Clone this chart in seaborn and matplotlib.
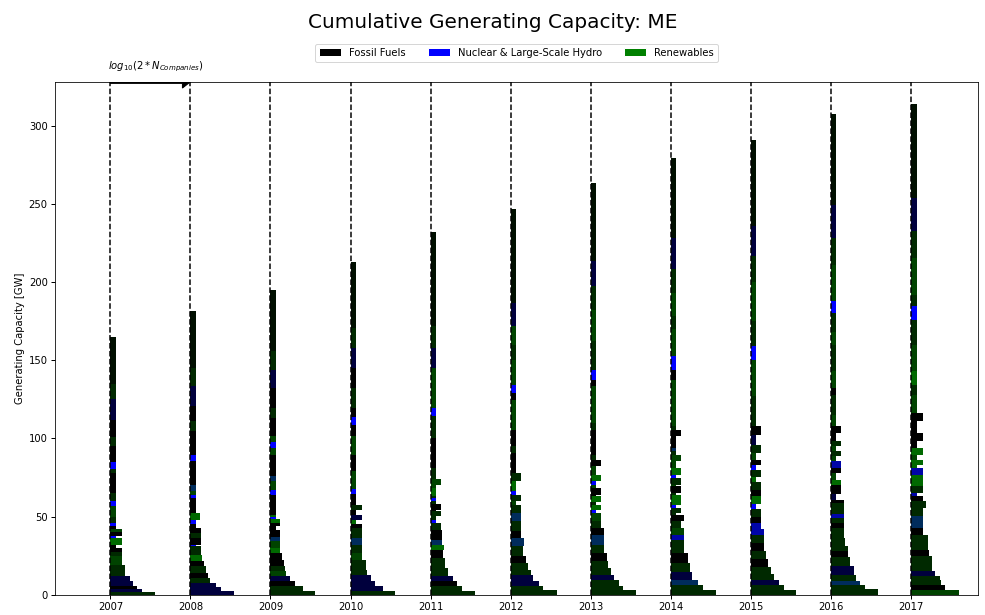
import matplotlib
matplotlib.use("Agg")
import matplotlib.pyplot as plt
from matplotlib.patches import Patch
import numpy as np
import pandas as pd
import seaborn as sns

# ---------------------------------------------------------------------------
# Data: every company is one block, stacked bottom-up in each year.
# cap_*  : installed capacity of the company [GW]
# wid_*  : horizontal extent of the block, in units of log10(2*N_companies)
# mix_*  : fuel-blend code of the company (see blend_shares)
# ---------------------------------------------------------------------------
years = [2007, 2008, 2009, 2010, 2011, 2012, 2013, 2014, 2015, 2016, 2017]

cap_2007 = [1.7, 1.9, 2.2, 2.7, 3.2, 3.2, 4.1, 5.5, 3.0, 2.2, 2.3, 4.0, 1.5, 2.5, 2.0,
            2.0, 2.0, 4.0, 7.0, 3.0, 5.0, 13.0, 2.5, 4.5, 10.0, 6.0, 11.0, 13.0, 10.0, 30.0]
wid_2007 = [0.56, 0.39, 0.33, 0.28, 0.24, 0.18, 0.18, 0.146, 0.146, 0.146, 0.07, 0.146, 0.07, 0.146, 0.146,
            0.07, 0.07, 0.07, 0.07, 0.07, 0.07, 0.07, 0.07, 0.07, 0.07, 0.07, 0.07, 0.07, 0.07, 0.07]
mix_2007 = "dnknnddgdkkGBkgkBdgBdkdBkdkndm"

cap_2008 = [2.6, 2.1, 2.8, 3.2, 3.2, 4.2, 3.2, 4.3, 5.3, 1.1, 4.2, 3.2, 3.2, 2.8, 2.6, 4.2,
            9.6, 2.2, 2.1, 4.3, 14.9, 4.2, 14.9, 6.4, 9.6, 12.8, 11.8, 36.2]
wid_2008 = [0.545, 0.38, 0.32, 0.25, 0.22, 0.19, 0.17, 0.15, 0.13, 0.07, 0.13, 0.13, 0.13, 0.07, 0.07, 0.125,
            0.07, 0.07, 0.07, 0.07, 0.07, 0.07, 0.07, 0.07, 0.07, 0.07, 0.07, 0.07]
mix_2008 = "nnndkdkGdBkdkkBGkBgtkBkdkndm"

cap_2009 = [2.6, 2.7, 3.2, 3.2, 3.2, 3.2, 4.3, 4.3, 3.2, 4.2, 2.6, 4.9, 2.1, 2.1, 2.6, 1.6,
            1.2, 12.8, 3.2, 5.4, 3.2, 13.8, 3.9, 4.3, 3.6, 11.7, 6.4, 12.8, 11.7, 11.7, 39.3]
wid_2009 = [0.55, 0.40, 0.31, 0.25, 0.20, 0.18, 0.17, 0.14, 0.125, 0.125, 0.125, 0.125, 0.07, 0.12, 0.12, 0.07,
            0.07, 0.07, 0.07, 0.07, 0.07, 0.07, 0.07, 0.07, 0.07, 0.07, 0.07, 0.07, 0.07, 0.07, 0.07]
mix_2009 = "ddkngdkkGgtkkkGBGkBgtkgBgkdkndm"

cap_2010 = [2.6, 2.7, 3.2, 4.3, 3.2, 6.4, 4.3, 5.3, 4.2, 6.4, 2.6, 2.8, 2.7, 3.3, 3.5, 6.9,
            3.2, 11.3, 10.6, 11.7, 7.1, 5.1, 6.1, 12.6, 12.8, 12.8, 12.9, 42.4]
wid_2010 = [0.56, 0.40, 0.31, 0.26, 0.21, 0.19, 0.146, 0.146, 0.146, 0.146, 0.146, 0.07, 0.146, 0.07, 0.146, 0.07,
            0.07, 0.07, 0.07, 0.07, 0.07, 0.07, 0.07, 0.07, 0.07, 0.07, 0.07, 0.07]
mix_2010 = "dnnnddgdtdkGnkdkBgkgkBkdkndm"

cap_2011 = [2.6, 2.7, 3.2, 3.2, 5.3, 6.5, 5.3, 3.2, 3.2, 6.4, 4.2, 2.2, 2.1, 3.2, 1.1,
            3.6, 1.7, 1.9, 1.3, 5.3, 1.7, 4.3, 6.8, 19.2, 14.0, 5.2, 25.5, 12.8, 13.9, 60.4]
wid_2011 = [0.56, 0.39, 0.33, 0.28, 0.22, 0.18, 0.15, 0.165, 0.14, 0.14, 0.13, 0.07, 0.07, 0.13, 0.07,
            0.13, 0.07, 0.07, 0.07, 0.07, 0.07, 0.13, 0.07, 0.07, 0.07, 0.07, 0.07, 0.07, 0.07, 0.07]
mix_2011 = "ddknddkGtkdBddkkdBdGggdkdBgndm"

cap_2012 = [2.8, 2.5, 3.2, 4.3, 3.2, 4.3, 4.2, 6.4, 5.3, 4.3, 6.4, 5.3, 5.4, 2.1, 4.3,
            2.0, 6.5, 5.3, 12.8, 4.3, 10.6, 19.2, 4.3, 5.3, 15.7, 10.0, 11.6, 15.0, 60.1]
wid_2012 = [0.58, 0.40, 0.35, 0.28, 0.25, 0.22, 0.19, 0.16, 0.17, 0.13, 0.13, 0.13, 0.13, 0.07, 0.13,
            0.07, 0.07, 0.13, 0.07, 0.07, 0.07, 0.07, 0.07, 0.07, 0.07, 0.07, 0.07, 0.07, 0.07]
mix_2012 = "ddnnddkdtkdtdgdBGdkdkgkBgdgnm"

cap_2013 = [2.8, 3.0, 3.8, 3.2, 4.2, 4.3, 5.4, 5.3, 6.4, 4.2, 4.3, 5.3, 2.2, 3.2, 1.4, 3.9, 1.0,
            4.3, 2.2, 2.1, 4.3, 5.3, 4.3, 3.2, 15.9, 4.3, 23.5, 4.2, 6.4, 18.3, 20.0, 15.0, 16.0, 50.2]
wid_2013 = [0.57, 0.40, 0.35, 0.29, 0.25, 0.22, 0.20, 0.17, 0.17, 0.17, 0.13, 0.13, 0.07, 0.13, 0.07, 0.13, 0.07,
            0.13, 0.07, 0.07, 0.13, 0.07, 0.13, 0.07, 0.07, 0.07, 0.07, 0.07, 0.07, 0.07, 0.07, 0.07, 0.07, 0.07]
mix_2013 = "dddnddkdtkdgBGdGkkgBGgkdkdgkBdgdnm"

cap_2014 = [3.2, 3.2, 3.2, 4.7, 6.0, 6.4, 4.3, 4.2, 3.2, 4.2, 4.3, 4.3, 1.0, 3.2, 2.2, 6.3, 1.1, 4.3, 1.1,
            4.2, 2.2, 4.2, 4.3, 4.3, 2.0, 2.0, 7.6, 4.3, 2.2, 29.8, 6.4, 8.5, 17.6, 8.0, 14.9, 15.1, 20.1, 51.2]
wid_2014 = [0.57, 0.40, 0.34, 0.27, 0.24, 0.21, 0.17, 0.17, 0.17, 0.17, 0.13, 0.17, 0.07, 0.13, 0.07, 0.13, 0.07, 0.13, 0.07,
            0.13, 0.07, 0.13, 0.07, 0.13, 0.07, 0.07, 0.07, 0.13, 0.07, 0.07, 0.07, 0.07, 0.07, 0.07, 0.07, 0.07, 0.07, 0.07]
mix_2014 = "ddtndkddbgdkddBGdkgdBGggdtkkdgkBgdgdnm"

cap_2015 = [3.0, 3.4, 3.2, 3.9, 4.5, 5.0, 5.0, 5.0, 5.0, 4.0, 4.0, 4.0, 5.0, 3.0, 5.0, 4.0, 5.0,
            3.0, 5.0, 3.0, 3.0, 4.6, 5.4, 6.4, 5.3, 19.2, 23.4, 8.5, 16.2, 25.0, 16.4, 19.2, 55.1]
wid_2015 = [0.57, 0.41, 0.35, 0.29, 0.25, 0.22, 0.19, 0.17, 0.17, 0.17, 0.13, 0.13, 0.13, 0.07, 0.13, 0.13, 0.13,
            0.07, 0.13, 0.07, 0.13, 0.07, 0.13, 0.07, 0.125, 0.07, 0.07, 0.07, 0.07, 0.07, 0.07, 0.07, 0.07]
mix_2015 = "ddnddkdkdbbkdBGkdGdBkgdnkdgBdgdnm"

cap_2016 = [3.6, 2.8, 2.6, 3.4, 5.7, 5.8, 3.8, 3.2, 5.3, 6.4, 3.2, 3.2, 2.6, 7.0, 2.1, 3.7, 6.0, 3.2, 4.2,
            3.2, 4.3, 3.2, 3.2, 3.2, 3.2, 5.3, 4.3, 7.3, 13.0, 4.2, 10.7, 17.0, 8.0, 12.3, 7.4, 23.4, 17.2, 21.3, 58.0]
wid_2016 = [0.59, 0.43, 0.36, 0.31, 0.29, 0.24, 0.22, 0.21, 0.18, 0.17, 0.16, 0.16, 0.16, 0.16, 0.16, 0.07, 0.13, 0.13, 0.07,
            0.13, 0.13, 0.07, 0.13, 0.07, 0.13, 0.07, 0.13, 0.07, 0.07, 0.07, 0.07, 0.07, 0.07, 0.07, 0.07, 0.07, 0.07, 0.07, 0.07]
mix_2016 = "ddtdndkdddkdbdknkGgkbgdgdkkgdkgdgdBgdnm"

cap_2017 = [3.2, 3.2, 3.2, 2.1, 3.2, 3.2, 6.4, 4.3, 4.2, 5.4, 4.2, 7.5, 5.3, 4.3, 3.2, 2.1, 4.3, 7.5, 4.2,
            2.1, 3.2, 3.2, 4.3, 4.3, 5.3, 7.5, 5.3, 11.8, 6.3, 8.6, 17.0, 16.0, 8.6, 7.4, 23.5, 17.0, 21.4, 59.7]
wid_2017 = [0.60, 0.43, 0.38, 0.36, 0.30, 0.27, 0.26, 0.23, 0.22, 0.22, 0.15, 0.15, 0.15, 0.19, 0.146, 0.08, 0.146, 0.146, 0.146,
            0.08, 0.146, 0.08, 0.146, 0.08, 0.146, 0.08, 0.146, 0.08, 0.08, 0.08, 0.08, 0.08, 0.08, 0.08, 0.08, 0.08, 0.08, 0.08]
mix_2017 = "gkddnddkddktddkbdGbGGgGkkkkgdGgdBdgdnm"

capacities = dict(zip(years, [cap_2007, cap_2008, cap_2009, cap_2010, cap_2011, cap_2012,
                              cap_2013, cap_2014, cap_2015, cap_2016, cap_2017]))
widths = dict(zip(years, [wid_2007, wid_2008, wid_2009, wid_2010, wid_2011, wid_2012,
                          wid_2013, wid_2014, wid_2015, wid_2016, wid_2017]))
mixes = dict(zip(years, [mix_2007, mix_2008, mix_2009, mix_2010, mix_2011, mix_2012,
                         mix_2013, mix_2014, mix_2015, mix_2016, mix_2017]))

# Fuel categories and their colours
fuel_names = ["Fossil Fuels", "Nuclear & Large-Scale Hydro", "Renewables"]
fuel_palette = np.array(sns.color_palette(["black", "blue", "green"]))

# Shares (fossil, nuclear & hydro, renewables) of each blend code
blend_shares = {
    "k": (1.00, 0.00, 0.00),
    "m": (0.88, 0.00, 0.12),
    "d": (0.68, 0.00, 0.32),
    "g": (0.48, 0.00, 0.52),
    "G": (0.18, 0.00, 0.82),
    "n": (0.76, 0.24, 0.00),
    "b": (0.30, 0.66, 0.04),
    "B": (0.00, 1.00, 0.00),
    "t": (0.30, 0.36, 0.34),
}

rows = []
for yr in years:
    for cap, wid, code in zip(capacities[yr], widths[yr], mixes[yr]):
        rows.append({"year": yr, "capacity": cap, "width": wid, "blend": code})
df = pd.DataFrame(rows)
df["bottom"] = df.groupby("year")["capacity"].cumsum() - df["capacity"]
shares = np.array([blend_shares[c] for c in df["blend"]])
df_colors = np.clip(shares @ fuel_palette, 0, 1)

# ---------------------------------------------------------------------------
sns.set_style("ticks", rc={"axes.edgecolor": "black", "xtick.color": "black",
                           "ytick.color": "black", "text.color": "black",
                           "axes.labelcolor": "black"})
plt.rcParams["font.family"] = ["DejaVu Sans"]

fig, ax = plt.subplots(figsize=(985 / 72, 615 / 72), dpi=72)
fig.subplots_adjust(left=0.056, right=0.993, bottom=0.033, top=0.867)

ax.barh(df["bottom"], df["width"], height=df["capacity"], left=df["year"],
        align="edge", color=df_colors, linewidth=0, zorder=2)

y_top = 328
for yr in years:
    ax.axvline(yr, color="black", linestyle="--", linewidth=1.5, zorder=3)

ax.set_xlim(years[0] - 0.69, years[-1] + 0.84)
ax.set_ylim(0, y_top)
ax.set_xticks(years)
ax.set_yticks([0, 50, 100, 150, 200, 250, 300])
ax.set_ylabel("Generating Capacity [GW]", fontsize=10)
ax.tick_params(labelsize=10, length=4, width=1)

# Scale indicator: one year step equals log10(2*N_companies)
ax.arrow(years[0], y_top, years[1] - years[0], 0, width=2.0, head_width=8.0,
         head_length=0.1, length_includes_head=True, fc="black", ec="black", zorder=4)
ax.text(years[0] - 0.03, y_top + 5, r"$log_{10}(2*N_{Companies})$", fontsize=10,
        ha="left", va="bottom")

handles = [Patch(facecolor=fuel_palette[i], label=fuel_names[i]) for i in range(3)]
ax.legend(handles=handles, loc="center", bbox_to_anchor=(0.5, 1.057), ncol=3,
          fontsize=10, frameon=True, handlelength=2.2, handleheight=0.8, columnspacing=2.2)

fig.suptitle("Cumulative Generating Capacity: ME", fontsize=20, y=0.964, va="center")

fig.savefig("out.png", dpi=72)
